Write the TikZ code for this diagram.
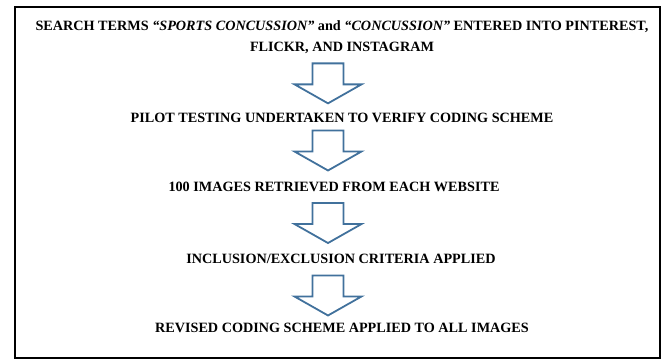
\documentclass[tikz,border=0pt]{standalone}
\usepackage{fontspec}
\setmainfont{Liberation Serif}
\usetikzlibrary{calc}
\definecolor{arrowblue}{RGB}{65,113,156}
\tikzset{pics/down arrow/.style={code={
        \draw[arrowblue, line width=1.8pt, line join=miter, fill=white]
            (-15.5,-20) -- (15.5,-20) -- (15.5,1) -- (33.5,1) -- (0,20) -- (-33.5,1) -- (-15.5,1) -- cycle;
}}}
\begin{document}
\begin{tikzpicture}[x=1pt,y=-1pt]
        \tikzstyle{every node}=[font=\bfseries\fontsize{14.2}{21}\selectfont, inner sep=0pt, align=center]
        \useasboundingbox (0,0) rectangle (665,361);
        \draw[line width=1.8pt] (15,7) rectangle (660,358);
        \node (search) at (342,37) {SEARCH TERMS \textit{“SPORTS CONCUSSION”} and \textit{“CONCUSSION”} ENTERED INTO PINTEREST,\\FLICKR, AND INSTAGRAM};
        \node (pilot) at (342,118) {PILOT TESTING UNDERTAKEN TO VERIFY CODING SCHEME};
        \node (retrieve) at (334,187) {100 IMAGES RETRIEVED FROM EACH WEBSITE};
        \node (criteria) at (341,259) {INCLUSION/EXCLUSION CRITERIA APPLIED};
        \node (revised) at (342,328) {REVISED CODING SCHEME APPLIED TO ALL IMAGES};
        \pic at ($(search.south)!0.5!(pilot.north)+(-14,0)$) {down arrow};
        \pic at ($(pilot.south)!0.5!(retrieve.north)+(-10,-2)$) {down arrow};
        \pic at ($(retrieve.south)!0.5!(criteria.north)+(-9.5,0)$) {down arrow};
        \pic at ($(criteria.south)!0.5!(revised.north)+(-13.5,2)$) {down arrow};
\end{tikzpicture}
\end{document}
